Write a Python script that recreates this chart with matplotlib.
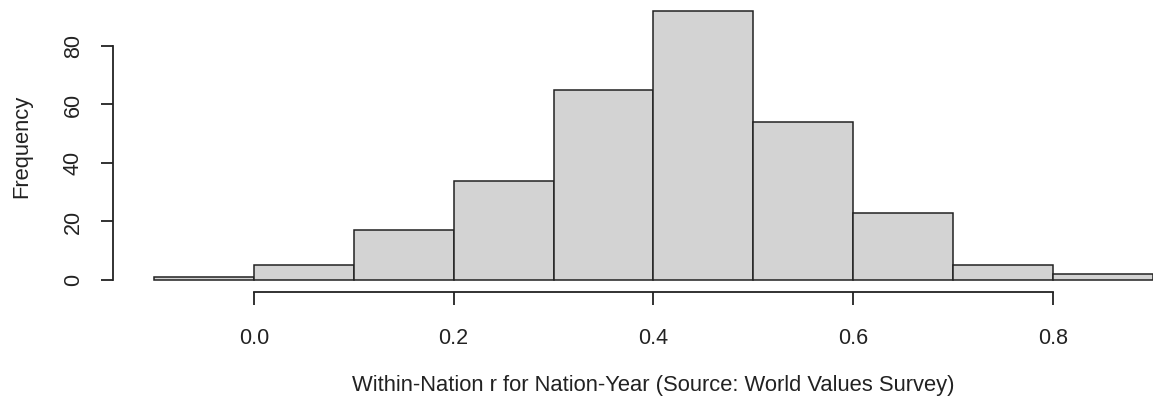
import matplotlib as mpl
import matplotlib.pyplot as plt

mpl.rcParams['font.family'] = ['Liberation Sans', 'DejaVu Sans']

# histogram bins (edges) and counts
bin_edges = [-0.1, 0.0, 0.1, 0.2, 0.3, 0.4, 0.5, 0.6, 0.7, 0.8, 0.9]
counts = [1, 5, 17, 34, 65, 92, 54, 23, 5, 2]
x_ticks = [0.0, 0.2, 0.4, 0.6, 0.8]
y_ticks = [0, 20, 40, 60, 80]

W, H = 1153, 403
fig = plt.figure(figsize=(W / 100, H / 100), dpi=100)
ax = fig.add_axes([113 / W, (H - 292) / H, 1 - 113 / W, 292 / H])

lefts = bin_edges[:-1]
widths = [b - a for a, b in zip(bin_edges[:-1], bin_edges[1:])]
ax.bar(lefts, counts, width=widths, align='edge', color='#d3d3d3',
       edgecolor='#222222', linewidth=1.1)

ax.set_xlim(-0.141, 0.9)
ax.set_ylim(-4.1, 95.7)

for s in ['top', 'right']:
    ax.spines[s].set_visible(False)
ax.spines['left'].set_bounds(0, 80)
ax.spines['bottom'].set_bounds(0, 0.8)
for s in ['left', 'bottom']:
    ax.spines[s].set_linewidth(1.3)
    ax.spines[s].set_color('#222222')

ax.set_xticks(x_ticks)
ax.set_xticklabels([f"{v:.1f}" for v in x_ticks])
ax.set_yticks(y_ticks)
ax.set_yticklabels([str(v) for v in y_ticks], rotation=90, va='center')
ax.tick_params(axis='both', length=9, width=1.3, color='#222222',
               labelsize=15.5, labelcolor='#222222')
ax.tick_params(axis='x', pad=17)
ax.tick_params(axis='y', pad=12)

fig.text(653 / W, (H - 385) / H,
         "Within-Nation r for Nation-Year (Source: World Values Survey)",
         ha='center', va='center', fontsize=15.8, color='#222222')
fig.text(22 / W, (H - 146) / H, "Frequency", rotation=90,
         ha='center', va='center', fontsize=15.8, color='#222222')

fig.savefig("out.png", dpi=100)
